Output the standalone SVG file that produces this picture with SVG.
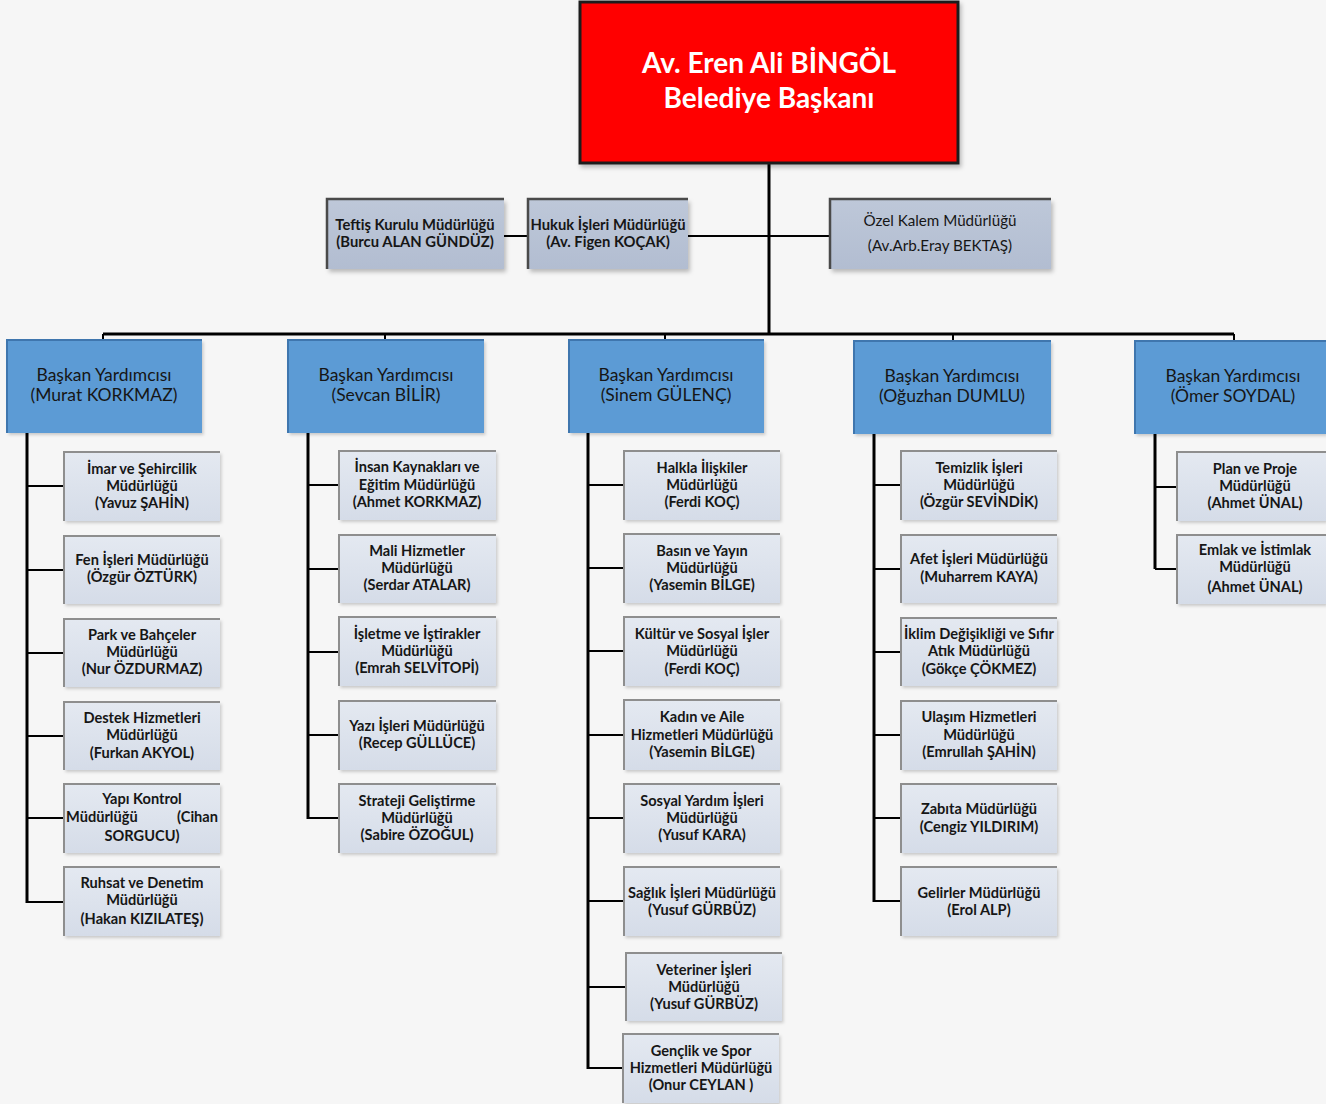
<svg xmlns="http://www.w3.org/2000/svg" width="1326" height="1104" viewBox="0 0 1326 1104">
<defs>
<linearGradient id="leafG" x1="0" y1="0" x2="0" y2="1">
<stop offset="0" stop-color="#E4E9F1"/>
<stop offset="1" stop-color="#D5DCE8"/>
</linearGradient>
<linearGradient id="sideG" x1="0" y1="0" x2="0" y2="1">
<stop offset="0" stop-color="#BEC8D9"/>
<stop offset="1" stop-color="#B2BDD1"/>
</linearGradient>
<filter id="sh" x="-10%" y="-10%" width="125%" height="130%">
<feDropShadow dx="2" dy="3" stdDeviation="2" flood-color="#000" flood-opacity="0.25"/>
</filter>
<filter id="shL" x="-10%" y="-10%" width="125%" height="130%">
<feDropShadow dx="1.5" dy="2" stdDeviation="1.5" flood-color="#000" flood-opacity="0.18"/>
</filter>
</defs>
<style>
text{font-family:"Lato","Open Sans","Liberation Sans",sans-serif;text-anchor:middle;fill:#161616}
.lt{font-size:14.6px;font-weight:700}
.vt{font-size:17.5px;font-weight:400}
.st{font-size:14.8px;font-weight:700}
.sr{font-size:15.2px;font-weight:400}
.tt{font-size:28px;font-weight:700;fill:#fff}
.leaf{fill:url(#leafG);filter:url(#shL)}
.edge{fill:none;stroke:#8E8E8E;stroke-width:2}
.vp{fill:#5B9BD5;filter:url(#shL)}
.vpe{fill:none;stroke:#3F76AE;stroke-width:2}
.side{fill:url(#sideG);filter:url(#sh)}
.sidee{fill:none;stroke:#4A4A4A;stroke-width:2.5}
.tr{fill:none;stroke:#000;stroke-width:3}
.br{fill:none;stroke:#000;stroke-width:2}
</style>
<rect width="1326" height="1104" fill="#F6F6F6"/>

<g id="connectors">
<path class="tr" d="M769,163 V335" stroke-width="3.5"/>
<path class="br" d="M504,236 H528 M688,236 H830"/>
<path class="tr" d="M103,334 H1234" stroke-width="2.5"/>
<path class="br" d="M103,334 V341 M385,334 V341 M665,334 V341 M953,334 V342 M1234,334 V342"/>
<path class="tr" d="M27,433 V903"/>
<path class="br" d="M27,486 H64 M27,570 H64 M27,653 H64 M27,736 H64 M27,818 H64 M27,902 H64"/>
<path class="tr" d="M308,433 V819"/>
<path class="br" d="M308,485 H339 M308,569 H339 M308,652 H339 M308,735 H339 M308,818 H339"/>
<path class="tr" d="M588,433 V1069"/>
<path class="br" d="M588,485 H624 M588,568 H624 M588,651 H624 M588,735 H624 M588,818 H624 M588,901 H624 M588,987 H626 M588,1068 H623"/>
<path class="tr" d="M874,434 V902"/>
<path class="br" d="M874,485 H901 M874,569 H901 M874,652 H901 M874,735 H901 M874,818 H901 M874,901 H901"/>
<path class="tr" d="M1155,434 V569"/>
<path class="br" d="M1155,487 H1177 M1155,569 H1177"/>
</g>

<g id="mayor">
<rect x="580" y="2" width="378" height="161" fill="#FF0000" stroke="#1E1E1E" stroke-width="3" filter="url(#sh)"/>
<text class="tt" x="769" y="73">Av. Eren Ali BİNGÖL</text>
<text class="tt" x="769" y="108">Belediye Başkanı</text>
</g>

<g id="teftis">
<rect class="side" x="327" y="199" width="177" height="70"/>
<path class="sidee" d="M327,269 V199 H504"/>
<text class="st" x="415" y="230">Teftiş Kurulu Müdürlüğü</text>
<text class="st" x="415" y="247">(Burcu ALAN GÜNDÜZ)</text>
</g>
<g id="hukuk">
<rect class="side" x="528" y="199" width="160" height="70"/>
<path class="sidee" d="M528,269 V199 H688"/>
<text class="st" x="608" y="230">Hukuk İşleri Müdürlüğü</text>
<text class="st" x="608" y="247">(Av. Figen KOÇAK)</text>
</g>
<g id="ozelkalem">
<rect class="side" x="830" y="199" width="221" height="70"/>
<path class="sidee" d="M830,269 V199 H1051"/>
<text class="sr" x="940" y="226">Özel Kalem Müdürlüğü</text>
<text class="sr" x="940" y="251">(Av.Arb.Eray BEKTAŞ)</text>
</g>

<g id="vp1">
<rect class="vp" x="7" y="340" width="195" height="93"/>
<path class="vpe" d="M7,433 V340 H202"/>
<text class="vt" x="104" y="381">Başkan Yardımcısı</text>
<text class="vt" x="104" y="401">(Murat KORKMAZ)</text>
</g>
<g id="vp2">
<rect class="vp" x="288" y="340" width="196" height="93"/>
<path class="vpe" d="M288,433 V340 H484"/>
<text class="vt" x="386" y="381">Başkan Yardımcısı</text>
<text class="vt" x="386" y="401">(Sevcan BİLİR)</text>
</g>
<g id="vp3">
<rect class="vp" x="569" y="340" width="195" height="93"/>
<path class="vpe" d="M569,433 V340 H764"/>
<text class="vt" x="666" y="381">Başkan Yardımcısı</text>
<text class="vt" x="666" y="401">(Sinem GÜLENÇ)</text>
</g>
<g id="vp4">
<rect class="vp" x="854" y="341" width="197" height="93"/>
<path class="vpe" d="M854,434 V341 H1051"/>
<text class="vt" x="952" y="382">Başkan Yardımcısı</text>
<text class="vt" x="952" y="402">(Oğuzhan DUMLU)</text>
</g>
<g id="vp5">
<rect class="vp" x="1135" y="341" width="191" height="93"/>
<path class="vpe" d="M1135,434 V341 H1326"/>
<text class="vt" x="1233" y="382">Başkan Yardımcısı</text>
<text class="vt" x="1233" y="402">(Ömer SOYDAL)</text>
</g>

<!-- Column 1 -->
<g id="imar">
<rect class="leaf" x="64" y="452" width="156" height="69"/><path class="edge" d="M64,521 V452 H220"/>
<text class="lt" x="142" y="474">İmar ve Şehircilik</text><text class="lt" x="142" y="491">Müdürlüğü</text><text class="lt" x="142" y="508">(Yavuz ŞAHİN)</text>
</g>
<g id="fen">
<rect class="leaf" x="64" y="536" width="156" height="68"/><path class="edge" d="M64,604 V536 H220"/>
<text class="lt" x="142" y="565">Fen İşleri Müdürlüğü</text><text class="lt" x="142" y="582">(Özgür ÖZTÜRK)</text>
</g>
<g id="park">
<rect class="leaf" x="64" y="619" width="156" height="68"/><path class="edge" d="M64,687 V619 H220"/>
<text class="lt" x="142" y="640">Park ve Bahçeler</text><text class="lt" x="142" y="657">Müdürlüğü</text><text class="lt" x="142" y="674">(Nur ÖZDURMAZ)</text>
</g>
<g id="destek">
<rect class="leaf" x="64" y="702" width="156" height="68"/><path class="edge" d="M64,770 V702 H220"/>
<text class="lt" x="142" y="723">Destek Hizmetleri</text><text class="lt" x="142" y="740">Müdürlüğü</text><text class="lt" x="142" y="758">(Furkan AKYOL)</text>
</g>
<g id="yapi">
<rect class="leaf" x="64" y="784" width="156" height="69"/><path class="edge" d="M64,853 V784 H220"/>
<text class="lt" x="142" y="804">Yapı Kontrol</text><text class="lt" x="66" y="822" style="text-anchor:start">Müdürlüğü</text><text class="lt" x="218" y="822" style="text-anchor:end">(Cihan</text><text class="lt" x="142" y="841">SORGUCU)</text>
</g>
<g id="ruhsat">
<rect class="leaf" x="64" y="867" width="156" height="69"/><path class="edge" d="M64,936 V867 H220"/>
<text class="lt" x="142" y="888">Ruhsat ve Denetim</text><text class="lt" x="142" y="905">Müdürlüğü</text><text class="lt" x="142" y="924">(Hakan KIZILATEŞ)</text>
</g>

<!-- Column 2 -->
<g id="insan">
<rect class="leaf" x="339" y="451" width="157" height="69"/><path class="edge" d="M339,520 V451 H496"/>
<text class="lt" x="417" y="472">İnsan Kaynakları ve</text><text class="lt" x="417" y="490">Eğitim Müdürlüğü</text><text class="lt" x="417" y="507">(Ahmet KORKMAZ)</text>
</g>
<g id="mali">
<rect class="leaf" x="339" y="535" width="157" height="68"/><path class="edge" d="M339,603 V535 H496"/>
<text class="lt" x="417" y="556">Mali Hizmetler</text><text class="lt" x="417" y="573">Müdürlüğü</text><text class="lt" x="417" y="590">(Serdar ATALAR)</text>
</g>
<g id="isletme">
<rect class="leaf" x="339" y="617" width="157" height="69"/><path class="edge" d="M339,686 V617 H496"/>
<text class="lt" x="417" y="639">İşletme ve İştirakler</text><text class="lt" x="417" y="656">Müdürlüğü</text><text class="lt" x="417" y="673">(Emrah SELVİTOPİ)</text>
</g>
<g id="yazi">
<rect class="leaf" x="339" y="701" width="157" height="69"/><path class="edge" d="M339,770 V701 H496"/>
<text class="lt" x="417" y="731">Yazı İşleri Müdürlüğü</text><text class="lt" x="417" y="748">(Recep GÜLLÜCE)</text>
</g>
<g id="strateji">
<rect class="leaf" x="339" y="784" width="157" height="69"/><path class="edge" d="M339,853 V784 H496"/>
<text class="lt" x="417" y="806">Strateji Geliştirme</text><text class="lt" x="417" y="823">Müdürlüğü</text><text class="lt" x="417" y="840">(Sabire ÖZOĞUL)</text>
</g>

<!-- Column 3 -->
<g id="halkla">
<rect class="leaf" x="624" y="451" width="156" height="69"/><path class="edge" d="M624,520 V451 H780"/>
<text class="lt" x="702" y="473">Halkla İlişkiler</text><text class="lt" x="702" y="490">Müdürlüğü</text><text class="lt" x="702" y="507">(Ferdi KOÇ)</text>
</g>
<g id="basin">
<rect class="leaf" x="624" y="534" width="156" height="69"/><path class="edge" d="M624,603 V534 H780"/>
<text class="lt" x="702" y="556">Basın ve Yayın</text><text class="lt" x="702" y="573">Müdürlüğü</text><text class="lt" x="702" y="590">(Yasemin BİLGE)</text>
</g>
<g id="kultur">
<rect class="leaf" x="624" y="617" width="156" height="69"/><path class="edge" d="M624,686 V617 H780"/>
<text class="lt" x="702" y="639">Kültür ve Sosyal İşler</text><text class="lt" x="702" y="656">Müdürlüğü</text><text class="lt" x="702" y="674">(Ferdi KOÇ)</text>
</g>
<g id="kadin">
<rect class="leaf" x="624" y="700" width="156" height="70"/><path class="edge" d="M624,770 V700 H780"/>
<text class="lt" x="702" y="722">Kadın ve Aile</text><text class="lt" x="702" y="740">Hizmetleri Müdürlüğü</text><text class="lt" x="702" y="757">(Yasemin BİLGE)</text>
</g>
<g id="sosyal">
<rect class="leaf" x="624" y="784" width="156" height="69"/><path class="edge" d="M624,853 V784 H780"/>
<text class="lt" x="702" y="806">Sosyal Yardım İşleri</text><text class="lt" x="702" y="823">Müdürlüğü</text><text class="lt" x="702" y="840">(Yusuf KARA)</text>
</g>
<g id="saglik">
<rect class="leaf" x="624" y="867" width="156" height="69"/><path class="edge" d="M624,936 V867 H780"/>
<text class="lt" x="702" y="898">Sağlık İşleri Müdürlüğü</text><text class="lt" x="702" y="915">(Yusuf GÜRBÜZ)</text>
</g>
<g id="veteriner">
<rect class="leaf" x="626" y="953" width="156" height="68"/><path class="edge" d="M626,1021 V953 H782"/>
<text class="lt" x="704" y="975">Veteriner İşleri</text><text class="lt" x="704" y="992">Müdürlüğü</text><text class="lt" x="704" y="1009">(Yusuf GÜRBÜZ)</text>
</g>
<g id="genclik">
<rect class="leaf" x="623" y="1034" width="156" height="69"/><path class="edge" d="M623,1103 V1034 H779"/>
<text class="lt" x="701" y="1056">Gençlik ve Spor</text><text class="lt" x="701" y="1073">Hizmetleri Müdürlüğü</text><text class="lt" x="701" y="1090">(Onur CEYLAN )</text>
</g>

<!-- Column 4 -->
<g id="temizlik">
<rect class="leaf" x="901" y="451" width="156" height="69"/><path class="edge" d="M901,520 V451 H1057"/>
<text class="lt" x="979" y="473">Temizlik İşleri</text><text class="lt" x="979" y="490">Müdürlüğü</text><text class="lt" x="979" y="507">(Özgür SEVİNDİK)</text>
</g>
<g id="afet">
<rect class="leaf" x="901" y="535" width="156" height="68"/><path class="edge" d="M901,603 V535 H1057"/>
<text class="lt" x="979" y="564">Afet İşleri Müdürlüğü</text><text class="lt" x="979" y="582">(Muharrem KAYA)</text>
</g>
<g id="iklim">
<rect class="leaf" x="901" y="618" width="156" height="68"/><path class="edge" d="M901,686 V618 H1057"/>
<text class="lt" x="979" y="639">İklim Değişikliği ve Sıfır</text><text class="lt" x="979" y="656">Atık  Müdürlüğü</text><text class="lt" x="979" y="674">(Gökçe ÇÖKMEZ)</text>
</g>
<g id="ulasim">
<rect class="leaf" x="901" y="701" width="156" height="69"/><path class="edge" d="M901,770 V701 H1057"/>
<text class="lt" x="979" y="722">Ulaşım Hizmetleri</text><text class="lt" x="979" y="740">Müdürlüğü</text><text class="lt" x="979" y="757">(Emrullah ŞAHİN)</text>
</g>
<g id="zabita">
<rect class="leaf" x="901" y="784" width="156" height="69"/><path class="edge" d="M901,853 V784 H1057"/>
<text class="lt" x="979" y="814">Zabıta  Müdürlüğü</text><text class="lt" x="979" y="832">(Cengiz YILDIRIM)</text>
</g>
<g id="gelirler">
<rect class="leaf" x="901" y="867" width="156" height="69"/><path class="edge" d="M901,936 V867 H1057"/>
<text class="lt" x="979" y="898">Gelirler  Müdürlüğü</text><text class="lt" x="979" y="915">(Erol ALP)</text>
</g>

<!-- Column 5 -->
<g id="plan">
<rect class="leaf" x="1177" y="452" width="149" height="69"/><path class="edge" d="M1177,521 V452 H1326"/>
<text class="lt" x="1255" y="474">Plan ve Proje</text><text class="lt" x="1255" y="491">Müdürlüğü</text><text class="lt" x="1255" y="508">(Ahmet ÜNAL)</text>
</g>
<g id="emlak">
<rect class="leaf" x="1177" y="535" width="149" height="69"/><path class="edge" d="M1177,604 V535 H1326"/>
<text class="lt" x="1255" y="555">Emlak ve İstimlak</text><text class="lt" x="1255" y="572">Müdürlüğü</text><text class="lt" x="1255" y="592">(Ahmet ÜNAL)</text>
</g>
</svg>
